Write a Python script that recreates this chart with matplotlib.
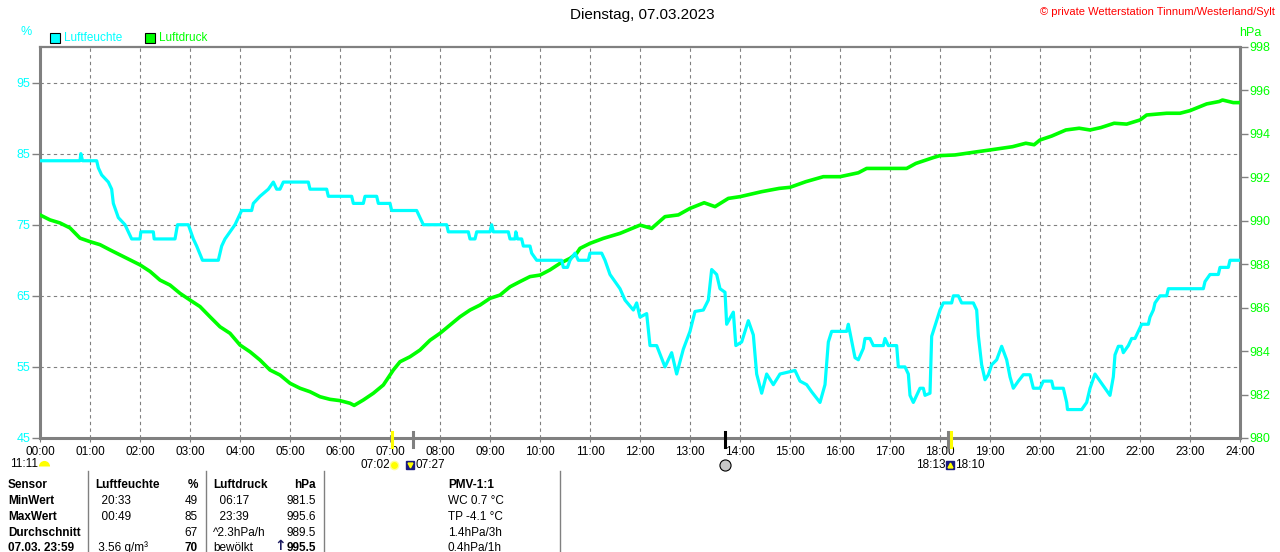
import matplotlib
matplotlib.use("Agg")
import matplotlib.pyplot as plt
from matplotlib.lines import Line2D
from matplotlib.patches import Rectangle
from matplotlib.markers import MarkerStyle

W, H = 1280, 552
plt.rcParams['font.family'] = ['Liberation Sans', 'DejaVu Sans']

# Luftfeuchte in %, Zeitpunkte HH:MM
hum_times = ["00:00", "00:48", "00:49", "00:51", "01:08", "01:10", "01:14", "01:22", "01:26", "01:28",
             "01:34", "01:42", "01:46", "01:50", "02:00", "02:01", "02:16", "02:17", "02:42", "02:45",
             "02:58", "03:04", "03:08", "03:15", "03:34", "03:38", "03:42", "03:48", "03:54", "04:02",
             "04:14", "04:16", "04:24", "04:34", "04:40", "04:44", "04:48", "04:52", "05:22", "05:24",
             "05:44", "05:46", "06:14", "06:16", "06:28", "06:30", "06:44", "06:46", "07:00", "07:02",
             "07:32", "07:36", "07:40", "08:08", "08:10", "08:34", "08:36", "08:42", "08:44", "09:00",
             "09:02", "09:04", "09:22", "09:24", "09:30", "09:31", "09:33", "09:38", "09:40", "09:48",
             "09:50", "09:56", "10:26", "10:28", "10:33", "10:36", "10:42", "10:46", "10:58", "11:00",
             "11:14", "11:18", "11:24", "11:36", "11:42", "11:52", "11:56", "12:00", "12:08", "12:12",
             "12:20", "12:30", "12:38", "12:44", "12:52", "13:00", "13:06", "13:16", "13:22", "13:26",
             "13:32", "13:36", "13:42", "13:44", "13:52", "13:55", "14:02", "14:10", "14:16", "14:20",
             "14:26", "14:32", "14:40", "14:48", "15:06", "15:12", "15:20", "15:26", "15:36", "15:42",
             "15:46", "15:50", "16:08", "16:10", "16:18", "16:22", "16:28", "16:30", "16:36", "16:40",
             "16:52", "16:54", "16:58", "17:08", "17:10", "17:18", "17:22", "17:24", "17:28", "17:32",
             "17:36", "17:40", "17:42", "17:48", "17:50", "17:54", "18:00", "18:04", "18:14", "18:16",
             "18:22", "18:26", "18:40", "18:44", "18:46", "18:50", "18:54", "18:58", "19:02", "19:08",
             "19:14", "19:20", "19:24", "19:28", "19:34", "19:40", "19:48", "19:52", "20:00", "20:04",
             "20:14", "20:16", "20:28", "20:32", "20:33", "20:50", "20:56", "21:00", "21:06", "21:12",
             "21:18", "21:24", "21:28", "21:30", "21:34", "21:38", "21:40", "21:46", "21:50", "21:54",
             "21:58", "22:02", "22:10", "22:12", "22:16", "22:18", "22:24", "22:32", "22:34", "23:16",
             "23:18", "23:24", "23:34", "23:36", "23:46", "23:48", "24:00"]
hum_values = [84, 84, 85, 84, 84, 83, 82, 81, 80, 78,
              76, 75, 74, 73, 73, 74, 74, 73, 73, 75,
              75, 73, 72, 70, 70, 72, 73, 74, 75, 77,
              77, 78, 79, 80, 81, 80, 80, 81, 81, 80,
              80, 79, 79, 78, 78, 79, 79, 78, 78, 77,
              77, 76, 75, 75, 74, 74, 73, 73, 74, 74,
              75, 74, 74, 73, 73, 74, 73, 73, 72, 72,
              71, 70, 70, 69, 69, 70, 71, 70, 70, 71,
              71, 70, 68, 66, 64.4, 63, 64, 62, 62.5, 58,
              58, 55, 57, 54, 57.5, 60, 62.8, 63, 64.4, 68.7,
              68, 66, 65.5, 61, 62.7, 58, 58.5, 61.5, 59.5, 54,
              51.3, 54, 52.5, 54, 54.5, 53, 52.5, 51.5, 50, 52.5,
              58.5, 60, 60, 61, 56.3, 56, 57.6, 59, 59, 58,
              58, 59, 58, 58, 55, 55, 54, 51, 50, 51,
              52, 52, 51, 51.3, 59.3, 60.8, 63, 64, 64, 65,
              65, 64, 64, 63, 59.4, 55.3, 53.2, 53.9, 55.3, 56,
              57.9, 56, 53.6, 52, 53, 53.9, 53.9, 52, 52, 53,
              53, 52, 52, 50, 49, 49, 50, 52, 54, 53,
              52, 51, 53.6, 56.7, 57.9, 57.9, 57, 58, 59, 59,
              60, 61, 61, 62, 63, 64, 65, 65, 66, 66,
              67, 68, 68, 69, 69, 70, 70]

# Luftdruck in hPa
pres_times = ["00:00", "00:12", "00:24", "00:36", "00:48", "01:00", "01:12", "01:24", "01:36", "01:48",
              "02:00", "02:12", "02:24", "02:36", "02:48", "03:00", "03:12", "03:24", "03:36", "03:48",
              "04:00", "04:12", "04:24", "04:36", "04:48", "05:00", "05:12", "05:24", "05:36", "05:48",
              "06:00", "06:12", "06:17", "06:28", "06:40", "06:52", "07:04", "07:12", "07:24", "07:36",
              "07:48", "08:00", "08:12", "08:24", "08:36", "08:48", "09:00", "09:12", "09:24", "09:36",
              "09:48", "10:00", "10:12", "10:24", "10:36", "10:44", "10:48", "11:00", "11:16", "11:36",
              "12:00", "12:14", "12:30", "12:46", "13:00", "13:17", "13:30", "13:46", "14:00", "14:26",
              "14:47", "15:00", "15:19", "15:40", "16:00", "16:22", "16:32", "17:00", "17:20", "17:31",
              "17:52", "18:00", "18:18", "18:45", "19:00", "19:27", "19:43", "19:53", "20:00", "20:14",
              "20:31", "20:47", "21:00", "21:13", "21:29", "21:44", "22:00", "22:08", "22:32", "22:48",
              "23:00", "23:20", "23:35", "23:39", "23:52", "24:00"]
pres_values = [990.27, 990.04, 989.9, 989.67, 989.2, 989.04, 988.9, 988.66, 988.43, 988.2,
               987.97, 987.67, 987.27, 987.04, 986.66, 986.35, 986.05, 985.58, 985.12, 984.82,
               984.28, 983.97, 983.59, 983.13, 982.9, 982.52, 982.29, 982.13, 981.9, 981.78,
               981.72, 981.6, 981.5, 981.75, 982.06, 982.44, 983.13, 983.51, 983.74, 984.05,
               984.5, 984.82, 985.2, 985.58, 985.89, 986.12, 986.43, 986.58, 986.96, 987.2,
               987.43, 987.5, 987.74, 988.04, 988.27, 988.5, 988.73, 988.96, 989.19, 989.42,
               989.8, 989.65, 990.19, 990.27, 990.57, 990.83, 990.65, 991.03, 991.11, 991.34,
               991.49, 991.54, 991.8, 992.03, 992.03, 992.21, 992.41, 992.41, 992.41, 992.64,
               992.91, 993.0, 993.03, 993.18, 993.26, 993.41, 993.57, 993.5, 993.72, 993.9,
               994.18, 994.26, 994.18, 994.29, 994.49, 994.45, 994.64, 994.87, 994.95, 994.95,
               995.07, 995.38, 995.49, 995.56, 995.44, 995.44]

hour_labels = ["%02d:00" % h for h in range(25)]
hum_ticks = [45, 55, 65, 75, 85, 95]
pres_ticks = list(range(980, 999, 2))

# Sonne/Mond: Zeit, Farbe der Markierung
event_times = ["07:02", "07:27", "13:42", "18:10", "18:13"]
event_colors = ["#ffff00", "#808080", "#000000", "#808080", "#ffff00"]

CYAN = "#00ffff"
GREEN = "#00ff00"
GRAY = "#808080"
NAVY = "#1a1a80"


def to_h(s):
    hh, mm = s.split(":")
    return int(hh) + int(mm) / 60.0


def px(x, y):
    return x / W, 1 - y / H


hum_x = [to_h(t) for t in hum_times]
pres_x = [to_h(t) for t in pres_times]

fig = plt.figure(figsize=(W / 100, H / 100), dpi=100)
ax = fig.add_axes([40 / W, 1 - 438 / H, 1200 / W, 391 / H])
ax.set_xlim(0, 24)
ax.set_ylim(45, 100)

# Gitter
for v in hum_ticks[1:]:
    ax.axhline(v, color=GRAY, lw=0.8, ls=(0, (3, 3)), zorder=1)
for h in range(1, 24):
    ax.axvline(h, color=GRAY, lw=0.8, ls=(0, (3, 3)), zorder=1)

ax.set_xticks(range(25))
ax.set_xticklabels(hour_labels, fontsize=8.5)
ax.set_yticks(hum_ticks)
ax.set_yticklabels([str(v) for v in hum_ticks], fontsize=9, color=CYAN)
ax.tick_params(axis='x', length=3, color=GRAY, pad=3)
ax.tick_params(axis='y', length=6, color=GRAY, width=1, pad=1)
for side in ['left', 'right', 'bottom']:
    ax.spines[side].set_color(GRAY)
    ax.spines[side].set_linewidth(2.2)
ax.spines['top'].set_color(GRAY)
ax.spines['top'].set_linewidth(1.6)

ax2 = ax.twinx()
ax2.set_ylim(980, 998)
ax2.set_yticks(pres_ticks)
ax2.set_yticklabels([str(v) for v in pres_ticks], fontsize=9, color=GREEN)
ax2.tick_params(axis='y', length=6, color=GRAY, width=1, pad=1)
for side in ['left', 'right', 'bottom', 'top']:
    ax2.spines[side].set_visible(False)

ax2.plot(pres_x, pres_values, color=GREEN, lw=2.6, zorder=3)
# Luftfeuchte ueber dem Luftdruck, aber auf der %-Skala
ax2.add_line(Line2D(hum_x, hum_values, color=CYAN, lw=2.3, transform=ax.transData, zorder=4))

# Sonnen-/Mondmarken an der Zeitachse
xt = ax.get_xaxis_transform()
for t, c in zip(event_times, event_colors):
    ax.plot([to_h(t)] * 2, [-0.023, 0.016], color=c, lw=2.2, transform=xt, clip_on=False, zorder=6)

yi = -(465 - 438) / 391
sr, ms, tr, mr, ss = [to_h(t) for t in event_times]
ax.text(sr - 0.04, yi, "07:02", transform=xt, ha='right', va='center', fontsize=8.5)
ax.plot([sr + 0.05], [yi], marker='o', ms=6, mfc="#ffff00", mec="#ffff99", transform=xt, clip_on=False)
ax.plot([ms - 0.05], [yi], marker='s', ms=6, mfc=NAVY, mec=NAVY, transform=xt, clip_on=False)
ax.plot([ms - 0.05], [yi], marker='v', ms=3.5, mfc="#ffff00", mec="#ffff00", transform=xt, clip_on=False)
ax.text(ms + 0.05, yi, "07:27", transform=xt, ha='left', va='center', fontsize=8.5)
ax.plot([tr], [yi], marker='o', ms=8, mfc="#c8c8c8", mec="black", mew=0.8, transform=xt, clip_on=False)
ax.text(mr - 0.06, yi, "18:13", transform=xt, ha='right', va='center', fontsize=8.5)
ax.plot([mr + 0.03], [yi], marker='s', ms=6, mfc=NAVY, mec=NAVY, transform=xt, clip_on=False)
ax.plot([mr + 0.03], [yi], marker='^', ms=3.5, mfc="#ffff00", mec="#ffff00", transform=xt, clip_on=False)
ax.text(ss + 0.09, yi, "18:10", transform=xt, ha='left', va='center', fontsize=8.5)

# Kopfzeile
fig.text(*px(642, 15), "Dienstag, 07.03.2023", ha='center', va='center', fontsize=11)
fig.text(*px(1275, 12), "\u00a9 private Wetterstation Tinnum/Westerland/Sylt", ha='right', va='center',
         fontsize=8, color="#ff0000")
fig.text(*px(26, 32), "%", ha='center', va='center', fontsize=9, color=CYAN)
fig.text(*px(1250, 33), "hPa", ha='center', va='center', fontsize=9, color=GREEN)
for x0, label, col in [(50, "Luftfeuchte", CYAN), (145, "Luftdruck", GREEN)]:
    fig.add_artist(Rectangle(px(x0, 43), 10 / W, 10 / H, facecolor=col, edgecolor='black', lw=0.8))
    fig.text(*px(x0 + 14, 38), label, ha='left', va='center', fontsize=8.5, color=col)

# Mond unten links
fig.text(*px(10, 464), "11:11", ha='left', va='center', fontsize=8.5)
fig.add_artist(Line2D([44 / W], [1 - 466 / H], marker=MarkerStyle('o', fillstyle='top'), ms=8,
                      mfc="#ffff00", mfcalt="none", mec="none", transform=fig.transFigure))

# Tabelle
for xs in [88, 206, 324, 560]:
    fig.add_artist(Line2D([xs / W] * 2, [1 - 471 / H, 0], color=GRAY, lw=1))

rows_y = [485, 501, 517, 533, 548]
first_col = ["Sensor", "MinWert", "MaxWert", "Durchschnitt", "07.03. 23:59"]
hum_col_a = ["Luftfeuchte", "  20:33", "  00:49", "", " 3.56 g/m\u00b3"]
hum_col_b = ["%", "49", "85", "67", "70"]
pres_col_a = ["Luftdruck", "  06:17", "  23:39", "^2.3hPa/h", "bew\u00f6lkt"]
pres_col_b = ["hPa", "981.5", "995.6", "989.5", "995.5"]
pmv_col = ["PMV-1:1", "WC 0.7 \u00b0C", "TP -4.1 \u00b0C", "1.4hPa/3h", "0.4hPa/1h"]

for i, y in enumerate(rows_y):
    hdr = 'bold' if i == 0 else 'normal'
    fig.text(*px(8, y), first_col[i], ha='left', va='center', fontsize=8.5, fontweight='bold')
    fig.text(*px(95, y), hum_col_a[i], ha='left', va='center', fontsize=8.5, fontweight=hdr)
    fig.text(*px(198, y), hum_col_b[i], ha='right', va='center', fontsize=8.5,
             fontweight='bold' if i in (0, 4) else 'normal')
    fig.text(*px(213, y), pres_col_a[i], ha='left', va='center', fontsize=8.5, fontweight=hdr)
    fig.text(*px(316, y), pres_col_b[i], ha='right', va='center', fontsize=8.5,
             fontweight='bold' if i in (0, 4) else 'normal')
    fig.text(*px(448, y), pmv_col[i], ha='left', va='center', fontsize=8.5, fontweight=hdr)
fig.text(*px(280, 546), "\u2191", ha='center', va='center', fontsize=10, fontweight='bold',
         family='DejaVu Sans', color="#1a1a60")

fig.savefig("out.png", dpi=100)
